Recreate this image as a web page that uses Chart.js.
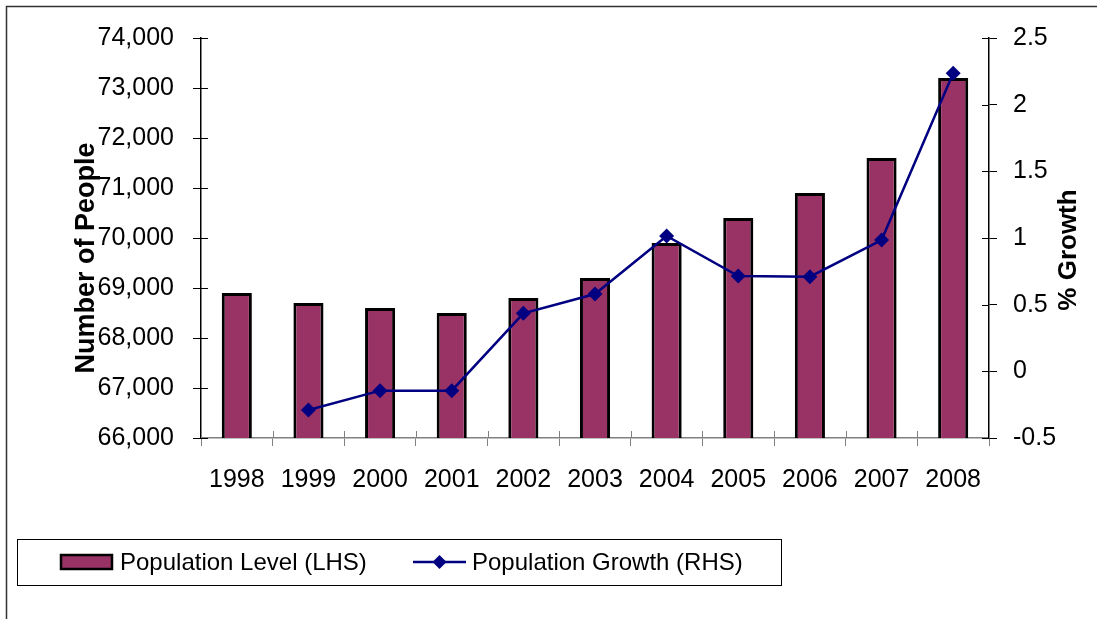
<!DOCTYPE html>
<html>
<head>
<meta charset="utf-8">
<title>Population Level and Growth</title>
<script src="https://cdn.jsdelivr.net/npm/chart.js@4/dist/chart.umd.min.js"></script>
<style>
  html, body { margin: 0; padding: 0; background: #fff; }
  #wrap { width: 1097px; height: 619px; }
</style>
</head>
<body>
<div id="wrap"><canvas id="c" width="1097" height="619"></canvas></div>
<script>
// Years on the category axis
const years = ['1998', '1999', '2000', '2001', '2002', '2003', '2004', '2005', '2006', '2007', '2008'];
// Population level (number of people), left axis
const populationLevel = [68900, 68700, 68600, 68500, 68800, 69200, 69900, 70400, 70900, 71600, 73200];
// Annual population growth (%), right axis
const populationGrowth = [null, -0.29, -0.145, -0.145, 0.435, 0.58, 1.015, 0.715, 0.71, 0.985, 2.235];
// Axis ranges and titles
const leftTicks = { min: 66000, max: 74000, step: 1000 };
const rightTicks = { min: -0.5, max: 2.5, step: 0.5 };
const leftTitle = 'Number of People';
const rightTitle = '% Growth';
const seriesNames = ['Population Level (LHS)', 'Population Growth (RHS)'];

const FONT = "'Liberation Sans', Arial, sans-serif";
const BAR_COLOR = '#993366';
const LINE_COLOR = '#000080';

// Short tick marks on the inner side of each axis (outer side drawn by Chart.js)
const innerTicks = {
  id: 'innerTicks',
  afterDatasetsDraw(chart) {
    const ctx = chart.ctx;
    const x = chart.scales.x, y = chart.scales.y, y1 = chart.scales.y1;
    ctx.save();
    ctx.lineWidth = 1;
    ctx.strokeStyle = '#000';
    y.ticks.forEach((t, i) => {
      const p = Math.round(y.getPixelForTick(i)) + 0.5;
      ctx.beginPath(); ctx.moveTo(y.right, p); ctx.lineTo(y.right + 7, p); ctx.stroke();
    });
    y1.ticks.forEach((t, i) => {
      const p = Math.round(y1.getPixelForTick(i)) + 0.5;
      ctx.beginPath(); ctx.moveTo(y1.left, p); ctx.lineTo(y1.left - 7, p); ctx.stroke();
    });
    ctx.strokeStyle = '#808080';
    const n = x.ticks.length;
    const w = (x.right - x.left) / n;
    for (let i = 0; i <= n; i++) {
      const p = Math.round(x.left + i * w) + 0.5;
      ctx.beginPath(); ctx.moveTo(p, x.top); ctx.lineTo(p, x.top - 7); ctx.stroke();
    }
    ctx.restore();
  }
};

// Axis titles, legend and frame
const decorations = {
  id: 'decorations',
  afterDraw(chart) {
    const ctx = chart.ctx;
    ctx.save();
    // frame
    ctx.strokeStyle = '#333';
    ctx.lineWidth = 1.5;
    ctx.beginPath();
    ctx.moveTo(6.5, 619); ctx.lineTo(6.5, 6.5); ctx.lineTo(1097, 6.5);
    ctx.stroke();

    // axis titles
    ctx.fillStyle = '#000';
    ctx.textAlign = 'center';
    ctx.textBaseline = 'middle';
    ctx.save();
    ctx.translate(87, 258);
    ctx.rotate(-Math.PI / 2);
    ctx.font = 'bold 27px ' + FONT;
    ctx.fillText(leftTitle, 0, 0);
    ctx.restore();
    ctx.save();
    ctx.translate(1069, 250);
    ctx.rotate(-Math.PI / 2);
    ctx.font = 'bold 26px ' + FONT;
    ctx.fillText(rightTitle, 0, 0);
    ctx.restore();

    // legend
    const bars = chart.data.datasets.find(d => d.type === 'bar');
    const line = chart.data.datasets.find(d => d.type === 'line');
    ctx.lineWidth = 1;
    ctx.strokeStyle = '#000';
    ctx.strokeRect(17.5, 539.5, 764, 46);
    ctx.fillStyle = bars.backgroundColor;
    ctx.fillRect(61, 555, 51, 14);
    ctx.lineWidth = 2.5;
    ctx.strokeRect(61, 555, 51, 14);
    ctx.strokeStyle = line.borderColor;
    ctx.lineWidth = 2.5;
    ctx.beginPath(); ctx.moveTo(413, 562); ctx.lineTo(466, 562); ctx.stroke();
    ctx.fillStyle = line.borderColor;
    ctx.beginPath();
    ctx.moveTo(439.5, 555); ctx.lineTo(446.5, 562); ctx.lineTo(439.5, 569); ctx.lineTo(432.5, 562);
    ctx.closePath(); ctx.fill();
    ctx.fillStyle = '#000';
    ctx.font = '24px ' + FONT;
    ctx.textAlign = 'left';
    ctx.fillText(bars.label, 120, 563);
    ctx.fillText(line.label, 472, 563);
    ctx.restore();
  }
};

new Chart(document.getElementById('c'), {
  data: {
    labels: years,
    datasets: [
      {
        type: 'line',
        label: seriesNames[1],
        data: populationGrowth,
        yAxisID: 'y1',
        borderColor: LINE_COLOR,
        backgroundColor: LINE_COLOR,
        borderWidth: 2.5,
        pointStyle: 'rectRot',
        pointRadius: 7.5,
        pointHoverRadius: 7.5,
        pointBackgroundColor: LINE_COLOR,
        pointBorderColor: LINE_COLOR,
        pointBorderWidth: 0,
        tension: 0,
        order: 0
      },
      {
        type: 'bar',
        label: seriesNames[0],
        data: populationLevel,
        yAxisID: 'y',
        backgroundColor: BAR_COLOR,
        borderColor: '#000',
        borderWidth: 3,
        barPercentage: 0.42,
        categoryPercentage: 1,
        order: 1
      }
    ]
  },
  options: {
    responsive: false,
    animation: false,
    events: [],
    layout: { padding: { top: 38, left: 0, right: 0, bottom: 0 } },
    plugins: { legend: { display: false }, tooltip: { enabled: false } },
    scales: {
      x: {
        position: 'bottom',
        offset: true,
        afterFit(s) { s.height = 181; },
        grid: { offset: true, drawOnChartArea: false, drawTicks: true, tickLength: 8, color: '#808080', lineWidth: 1 },
        border: { display: true, color: '#808080', width: 1.5 },
        ticks: { color: '#000', font: { family: FONT, size: 25 }, padding: 19, maxRotation: 0, autoSkip: false }
      },
      y: {
        position: 'left',
        min: leftTicks.min,
        max: leftTicks.max,
        afterFit(s) { s.width = 201; },
        grid: { drawOnChartArea: false, drawTicks: true, tickLength: 8, color: '#000', lineWidth: 1 },
        border: { display: true, color: '#000', width: 1.5 },
        ticks: {
          stepSize: leftTicks.step,
          color: '#000',
          font: { family: FONT, size: 25 },
          padding: 19,
          callback: v => v.toLocaleString('en-US')
        }
      },
      y1: {
        position: 'right',
        min: rightTicks.min,
        max: rightTicks.max,
        afterFit(s) { s.width = 108; },
        grid: { drawOnChartArea: false, drawTicks: true, tickLength: 8, color: '#000', lineWidth: 1 },
        border: { display: true, color: '#000', width: 1.5 },
        ticks: {
          stepSize: rightTicks.step,
          color: '#000',
          font: { family: FONT, size: 25 },
          padding: 16,
          callback: v => String(v)
        }
      }
    }
  },
  plugins: [innerTicks, decorations]
});
</script>
</body>
</html>
